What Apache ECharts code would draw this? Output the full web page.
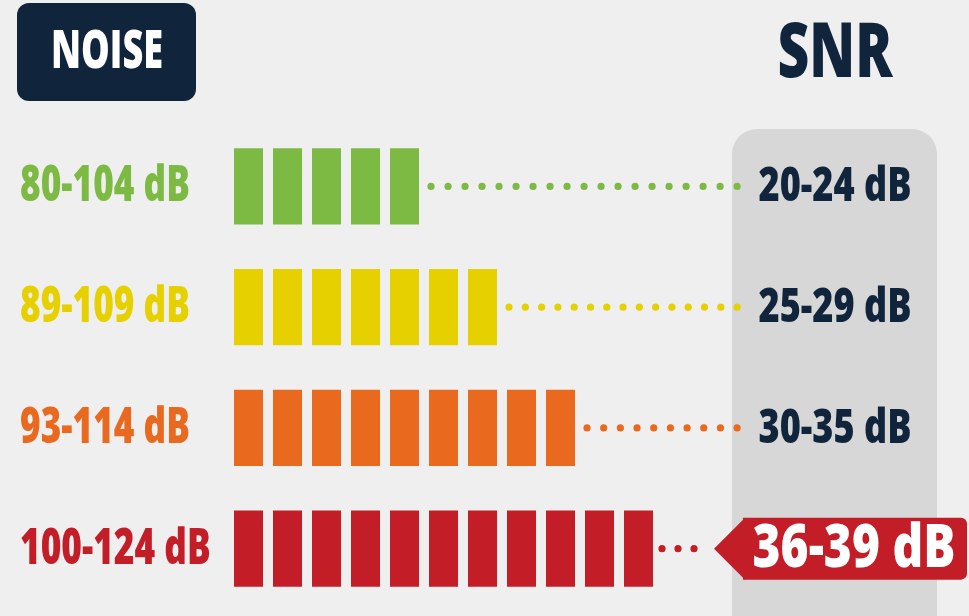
<!DOCTYPE html>
<html><head><meta charset="utf-8">
<script src="https://cdn.jsdelivr.net/npm/echarts@6/dist/echarts.min.js"></script>
<style>html,body{margin:0;padding:0;background:#efefef}#c{width:969px;height:616px}</style>
</head><body><div id="c"></div>
<script>
const noiseLabels = ['80-104 dB', '89-109 dB', '93-114 dB', '100-124 dB'];
const snrLabels = ['20-24 dB', '25-29 dB', '30-35 dB', '36-39 dB'];
const segmentCounts = [5, 7, 9, 11];
const rowColors = ['#7dba44', '#e6d000', '#e96a1f', '#c31e27'];
const highlightIndex = 3;

const FONT_NAME = 'Open Sans';
const WEIGHT = 800;
const NAVY = '#10253c';

// horizontal condensing factor so that a regular bold face looks like a condensed one
const mctx = document.createElement('canvas').getContext('2d');
function textWidth(text, size) {
  mctx.font = WEIGHT + ' ' + size + 'px "' + FONT_NAME + '"';
  return mctx.measureText(text).width;
}
const NOISE_SIZE = 49, SNR_SIZE = 48, TAG_SIZE = 60;
const noiseScale = 170 / textWidth(noiseLabels[0], NOISE_SIZE);
const snrScale = 153 / textWidth(snrLabels[0], SNR_SIZE);
const tagScale = 203 / textWidth(snrLabels[highlightIndex], TAG_SIZE);

function txt(text, x, y, size, fill, scale, align) {
  return {type: 'text', x: x, y: y, scaleX: scale,
    style: {text: text, x: 0, y: 0, fill: fill, fontSize: size, fontWeight: WEIGHT, fontFamily: FONT_NAME,
      align: align, verticalAlign: 'middle'}};
}

const chart = echarts.init(document.getElementById('c'));
const data = segmentCounts.map((n, i) => [n, i]);

function renderItem(params, api) {
  const n = api.value(0), row = api.value(1);
  const color = rowColors[row];
  const unit = api.size([1, 0])[0];
  const bandH = api.size([0, 1])[1];
  const origin = api.coord([0, row]);
  const cy = origin[1];
  const segW = unit * 0.744, segH = bandH * 0.63;
  const children = [];
  children.push(txt(noiseLabels[row], origin[0] - 214, cy + 1, NOISE_SIZE, color, noiseScale, 'left'));
  for (let i = 0; i < n; i++) {
    const x = api.coord([i, row])[0];
    children.push({type: 'rect', shape: {x: x, y: cy - segH / 2, width: segW, height: segH}, style: {fill: color}});
  }
  const barEnd = api.coord([n - 1, row])[0] + segW;
  const gridRight = api.coord([13, row])[0];
  const hl = row === highlightIndex;
  const tagPoint = gridRight - 27;
  const dotEnd = hl ? tagPoint - 20 : api.coord([12.9, row])[0];
  const dotStart = barEnd + (hl ? 9 : 12);
  const count = Math.round((dotEnd - dotStart) / 16.7) + 1;
  const step = (dotEnd - dotStart) / (count - 1);
  for (let k = 0; k < count; k++) {
    children.push({type: 'circle', shape: {cx: dotStart + k * step, cy: cy, r: 3.6}, style: {fill: color}});
  }
  const snrX = gridRight + 94;
  if (hl) {
    const h = 31;
    children.push({type: 'polygon', shape: {points: [[tagPoint, cy], [tagPoint + 31, cy - h], [tagPoint + 31, cy + h]]}, style: {fill: color}});
    children.push({type: 'rect', shape: {x: tagPoint + 29, y: cy - h, width: 224, height: 2 * h, r: [0, 6, 6, 0]}, style: {fill: color}});
    children.push(txt(snrLabels[row], snrX + 19, cy + 1, TAG_SIZE, '#ffffff', tagScale, 'center'));
  } else {
    children.push(txt(snrLabels[row], snrX, cy + 1, SNR_SIZE, NAVY, snrScale, 'center'));
  }
  return {type: 'group', children: children};
}

const noiseTitleScale = 112 / textWidth('NOISE', 53);
const snrTitleScale = 115 / textWidth('SNR', 76);

const option = {
  backgroundColor: '#efefef',
  animation: false,
  grid: {left: 234, right: 228, top: 126, bottom: 7},
  xAxis: {type: 'value', min: 0, max: 13, show: false},
  yAxis: {
    type: 'category', data: noiseLabels, inverse: true,
    axisLine: {show: false}, axisTick: {show: false}, splitLine: {show: false},
    axisLabel: {show: false}
  },
  graphic: [
    {type: 'rect', z: -10, shape: {x: 732, y: 129, width: 205, height: 540, r: 25}, style: {fill: 'rgba(150,150,150,0.27)'}},
    {type: 'rect', shape: {x: 17, y: 3, width: 179, height: 98, r: 12}, style: {fill: NAVY}},
    {type: 'text', x: 107, y: 53, scaleX: noiseTitleScale, style: {text: 'NOISE', x: 0, y: 0, fill: '#ffffff', fontSize: 53, fontWeight: WEIGHT, fontFamily: FONT_NAME, align: 'center', verticalAlign: 'middle'}},
    {type: 'text', x: 835, y: 55, scaleX: snrTitleScale, style: {text: 'SNR', x: 0, y: 0, fill: NAVY, fontSize: 76, fontWeight: WEIGHT, fontFamily: FONT_NAME, align: 'center', verticalAlign: 'middle'}}
  ],
  series: [{type: 'custom', data: data, encode: {x: 0, y: 1}, clip: false, z: 5, renderItem: renderItem}]
};
chart.setOption(option);
</script></body></html>
